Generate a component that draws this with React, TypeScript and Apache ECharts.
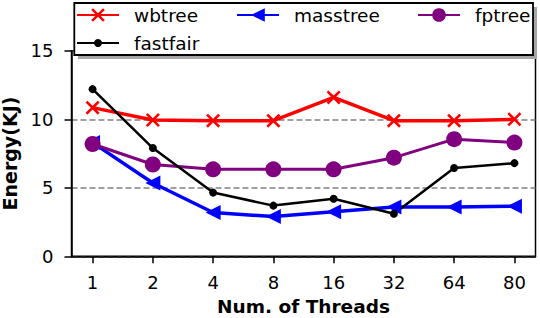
import React, { useEffect, useRef } from "react";
import * as echarts from "echarts";

const threads = ["1", "2", "4", "8", "16", "32", "64", "80"];
const wbtree = [10.85, 9.95, 9.9, 9.9, 11.6, 9.9, 9.9, 10.0];
const masstree = [8.3, 5.35, 3.2, 2.9, 3.25, 3.6, 3.6, 3.65];
const fptree = [8.2, 6.7, 6.35, 6.35, 6.35, 7.2, 8.55, 8.3];
const fastfair = [12.2, 7.9, 4.65, 3.7, 4.2, 3.1, 6.45, 6.8];
const yTicks = [0, 5, 10, 15];

const FONT = "DejaVu Sans";
const X_SYMBOL =
  "path://M2.6,0L10,7.4L17.4,0L20,2.6L12.6,10L20,17.4L17.4,20L10,12.6L2.6,20L0,17.4L7.4,10L0,2.6Z";
const TRI_LEFT = "path://M0,10L20,0L20,20Z";

const pairs = (vals: number[]) => vals.map((v, i) => [i, v]);

export default function App() {
  const ref = useRef<HTMLDivElement>(null);
  useEffect(() => {
    if (!ref.current) return;
    const chart = echarts.init(ref.current, undefined, { renderer: "svg" });
    const legendText = {
      fontFamily: FONT,
      fontSize: 18.5,
      color: "#000",
      lineHeight: 22,
      padding: [0, 0, 0, 10],
    };
    const mkLegend = (name: string, left: number, top: number, itemHeight: number) => ({
      data: [name],
      left,
      top,
      orient: "horizontal",
      padding: 0,
      itemWidth: 42,
      itemHeight,
      textStyle: legendText,
      z: 20,
    });
    chart.setOption({
      animation: false,
      backgroundColor: "#fff",
      textStyle: { fontFamily: FONT },
      grid: {
        left: 71.5,
        right: 4.5,
        top: 50.8,
        bottom: 61.7,
        containLabel: false,
        outerBoundsMode: "none",
        show: true,
        borderColor: "#000",
        borderWidth: 1.5,
        backgroundColor: "transparent",
      },
      xAxis: {
        type: "value",
        min: -0.35,
        max: 7.35,
        name: "Num. of Threads",
        nameLocation: "middle",
        nameGap: 42.5,
        nameTextStyle: {
          fontFamily: FONT,
          fontSize: 18.5,
          fontWeight: "bold",
          color: "#000",
          lineHeight: 16,
        },
        axisLine: { show: true, onZero: false, lineStyle: { color: "#000", width: 1.5 } },
        axisTick: {
          show: true,
          length: 7,
          lineStyle: { color: "#000", width: 1.5 },
          customValues: threads.map((_, i) => i),
        },
        axisLabel: {
          fontFamily: FONT,
          fontSize: 18,
          color: "#000",
          margin: 17,
          customValues: threads.map((_, i) => i),
          formatter: (v: number) => threads[Math.round(v)] ?? "",
        },
        splitLine: { show: false },
      },
      yAxis: {
        type: "value",
        min: 0,
        max: 15,
        name: "Energy(KJ)",
        nameLocation: "middle",
        nameRotate: 90,
        nameGap: 52.5,
        nameTextStyle: { fontFamily: FONT, fontSize: 19, fontWeight: "bold", color: "#000" },
        axisLine: { show: true, onZero: false, lineStyle: { color: "#000", width: 1.5 } },
        axisTick: {
          show: true,
          length: 7,
          lineStyle: { color: "#000", width: 1.5 },
          customValues: yTicks,
        },
        axisLabel: {
          fontFamily: FONT,
          fontSize: 18,
          color: "#000",
          margin: 18,
          customValues: yTicks,
        },
        splitLine: {
          show: true,
          lineStyle: { color: "#808080", width: 1.5, type: [6, 3] },
        },
      },
      legend: [
        mkLegend("wbtree", 76, 4, 17),
        mkLegend("masstree", 236, 4, 17),
        mkLegend("fptree", 417, 4, 17),
        mkLegend("fastfair", 76, 32, 10),
      ],
      graphic: [
        {
          type: "rect",
          z: 15,
          silent: true,
          shape: { x: 78, y: 7, width: 459, height: 52 },
          style: { fill: "#a6a6a6" },
        },
        {
          type: "rect",
          z: 16,
          silent: true,
          shape: { x: 74.3, y: 3, width: 458.7, height: 52 },
          style: { fill: "#fff", stroke: "#000", lineWidth: 1.8 },
        },
      ],
      series: [
        {
          name: "wbtree",
          type: "line",
          data: pairs(wbtree),
          symbol: X_SYMBOL,
          symbolSize: 14,
          lineStyle: { color: "#ff0000", width: 3.5 },
          itemStyle: { color: "#ff0000" },
        },
        {
          name: "masstree",
          type: "line",
          data: pairs(masstree),
          symbol: TRI_LEFT,
          symbolSize: 15,
          lineStyle: { color: "#0000ff", width: 3.5 },
          itemStyle: { color: "#0000ff" },
        },
        {
          name: "fptree",
          type: "line",
          data: pairs(fptree),
          symbol: "circle",
          symbolSize: 16,
          lineStyle: { color: "#800080", width: 3 },
          itemStyle: { color: "#800080" },
        },
        {
          name: "fastfair",
          type: "line",
          data: pairs(fastfair),
          symbol: "circle",
          symbolSize: 8,
          lineStyle: { color: "#000000", width: 2.5 },
          itemStyle: { color: "#000000" },
        },
      ],
    });
    return () => chart.dispose();
  }, []);
  return (
    <div
      ref={ref}
      style={{ position: "fixed", left: 0, top: 0, width: 540, height: 318 }}
    />
  );
}
